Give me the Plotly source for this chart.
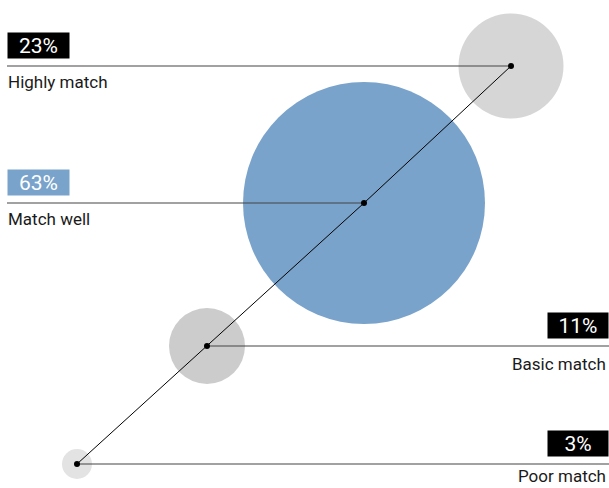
import plotly.graph_objects as go

# Data
labels = ["Highly match", "Match well", "Basic match", "Poor match"]
values = [23, 63, 11, 3]
value_text = ["23%", "63%", "11%", "3%"]

# Layout positions of the bubble centres (chart units = pixels)
x_pos = [511, 364, 207, 77]
y_pos = [66, 203, 346, 464]
bubble_diam = [105, 242, 76, 30]
bubble_colors = ["#d6d6d6", "#79a3cb", "#cccccc", "#e3e3e3"]
label_side = ["left", "left", "right", "right"]
tag_colors = ["#000000", "#79a3cb", "#000000", "#000000"]
label_offset = [16, 16, 18, 12]

W, H = 609, 488
fig = go.Figure()

# bubbles
fig.add_trace(go.Scatter(
    x=x_pos, y=y_pos, mode="markers",
    marker=dict(size=bubble_diam, color=bubble_colors, opacity=1, line=dict(width=0)),
    hoverinfo="skip", showlegend=False,
))

# leader lines
for i in range(len(labels)):
    if label_side[i] == "left":
        xs = [7, x_pos[i]]
    else:
        xs = [x_pos[i], W]
    fig.add_trace(go.Scatter(
        x=xs, y=[y_pos[i], y_pos[i]], mode="lines",
        line=dict(color="#444444", width=1.2),
        hoverinfo="skip", showlegend=False,
    ))

# diagonal connecting line + dots
order = sorted(range(len(labels)), key=lambda k: x_pos[k])
fig.add_trace(go.Scatter(
    x=[x_pos[k] for k in order], y=[y_pos[k] for k in order],
    mode="lines+markers",
    line=dict(color="#000000", width=1),
    marker=dict(size=6, color="#000000"),
    hoverinfo="skip", showlegend=False,
))

# tags and labels
for i in range(len(labels)):
    if label_side[i] == "left":
        tag_x, tag_anchor, tag_w = 7, "left", 61
        lab_x, lab_anchor = 6, "left"
    else:
        tag_x, tag_anchor, tag_w = W, "right", 60
        lab_x, lab_anchor = W - 1, "right"
    fig.add_annotation(
        x=tag_x, y=y_pos[i] - 21, xref="x", yref="y",
        xanchor=tag_anchor, yanchor="middle",
        text=value_text[i], showarrow=False,
        width=tag_w, height=25, align="center",
        bgcolor=tag_colors[i], borderpad=0,
        font=dict(family="Roboto", size=21, color="#ffffff"),
    )
    fig.add_annotation(
        x=lab_x, y=y_pos[i] + label_offset[i], xref="x", yref="y",
        xanchor=lab_anchor, yanchor="middle",
        text=labels[i], showarrow=False,
        font=dict(family="Roboto", size=17, color="#1a1a1a"),
    )

fig.update_layout(
    width=W, height=H,
    margin=dict(l=0, r=0, t=0, b=0),
    paper_bgcolor="white", plot_bgcolor="white",
    xaxis=dict(range=[0, W], visible=False, fixedrange=True),
    yaxis=dict(range=[H, 0], visible=False, fixedrange=True),
)

fig.write_html("out.html", config={"displayModeBar": False},
               post_script="document.body.style.margin='0';")
